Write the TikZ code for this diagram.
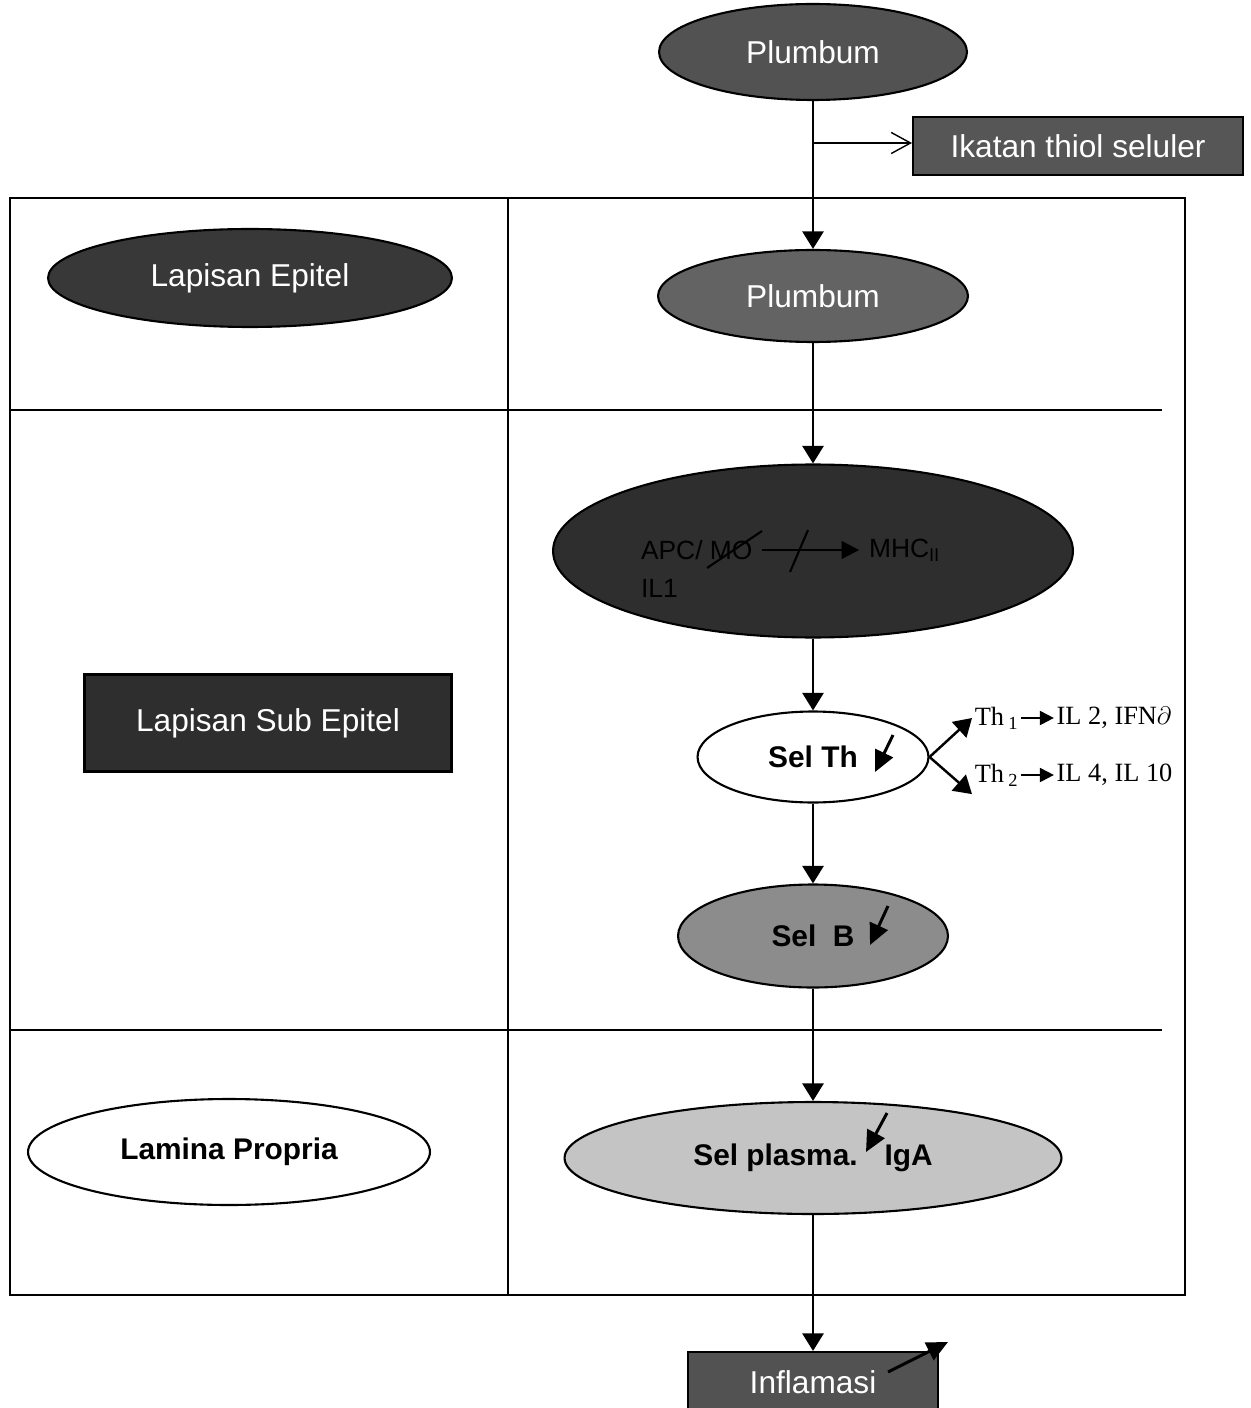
\documentclass[tikz,border=0pt]{standalone}
\usepackage{fontspec}
\setmainfont{Liberation Sans}
\newfontfamily\thfont{Liberation Serif}
\usetikzlibrary{shapes.geometric,arrows.meta,positioning}
\definecolor{leadgray}{gray}{0.32}
\definecolor{epigray}{gray}{0.22}
\definecolor{apcgray}{gray}{0.18}
\definecolor{bgray}{gray}{0.55}
\definecolor{plasmagray}{gray}{0.77}

\begin{document}
\begin{tikzpicture}[x=0.02cm,y=-0.02cm,line width=1.2pt,
    oval/.style={ellipse,draw,inner sep=0pt},
    darkbox/.style={rectangle,draw,inner sep=0pt},
    wtext/.style={text=white,font=\fontsize{18}{21}\selectfont},
    btext/.style={text=black,font=\bfseries\fontsize{17}{20}\selectfont},
    flow/.style={-{Triangle[length=10pt,width=12pt]},line width=1.4pt},
    down/.style={-{Triangle[length=12pt,width=11pt]},line width=1.7pt},
    thtext/.style={inner sep=1pt,font=\thfont\fontsize{15}{18}\selectfont}]
  \useasboundingbox (0,0) rectangle (1250,1408);

  % table
  \draw (10,198) rectangle (1185,1295);
  \draw (508,198) -- (508,1295);
  \draw (10,410) -- (1162,410);
  \draw (10,1030) -- (1162,1030);

  % left column
  \node[oval,fill=epigray,wtext,minimum width=8.08cm,minimum height=1.96cm] (epitel) at (250,278) {Lapisan Epitel};
  \node[darkbox,fill=apcgray,wtext,minimum width=7.34cm,minimum height=1.94cm] (subepi) at (268,723) {Lapisan Sub Epitel};
  \node[oval,fill=white,btext,minimum width=8.04cm,minimum height=2.12cm] (lamina) at (229,1152) {Lamina Propria};

  % right column
  \node[oval,fill=leadgray,wtext,minimum width=6.16cm,minimum height=1.92cm] (plumbA) at (813,52) {Plumbum};
  \coordinate (branch) at (813,143);
  \node[darkbox,fill=epigray!85!white,wtext,minimum width=6.6cm,minimum height=1.16cm] (ikatan) at (1078,146) {Ikatan thiol seluler};
  \node[oval,fill=leadgray!90!white,wtext,minimum width=6.2cm,minimum height=1.84cm] (plumbB) at (813,296) {Plumbum};

  \node[oval,fill=apcgray,minimum width=10.4cm,minimum height=3.46cm] (apc) at (813,551) {};
  \node[anchor=west,inner sep=0pt,font=\fontsize{15}{18}\selectfont] (apcname) at (640,550) {APC/ MO};
  \node[anchor=west,inner sep=0pt,font=\fontsize{15}{18}\selectfont] (il1) at (640,588) {IL1};
  \node[anchor=west,inner sep=0pt,font=\fontsize{15}{18}\selectfont] (mhc) at (868,550) {MHC\textsubscript{II}};
  \draw[-{Triangle[length=10pt,width=10pt]},line width=1.4pt] ([xshift=5pt]apcname.east) -- ([xshift=-5pt]mhc.west);
  \draw (707,568) -- (762,531);
  \draw (790,572) -- (808,530);

  \node[oval,fill=white,btext,minimum width=4.62cm,minimum height=1.82cm] (selth) at (813,757) {Sel Th};
  \draw[down] (893,735) -- (875,772);
  \node[thtext,anchor=west] (th1) at (972,718) {Th\,\textsubscript{1}};
  \node[thtext,right=0.65cm of th1] (ifn) {IL 2, IFN$\partial$};
  \node[thtext,anchor=west] (th2) at (972,775) {Th\,\textsubscript{2}};
  \node[thtext,right=0.65cm of th2] (il4) {IL 4, IL 10};
  \draw[-{Triangle[length=8pt,width=8pt]}] (th1) -- (ifn);
  \draw[-{Triangle[length=8pt,width=8pt]}] (th2) -- (il4);

  \node[oval,fill=bgray,btext,minimum width=5.4cm,minimum height=2.06cm] (selb) at (813,936) {Sel\ \ B};
  \draw[down] (888,906) -- (870,945);

  \node[oval,fill=plasmagray,btext,minimum width=9.94cm,minimum height=2.24cm] (plasma) at (813,1158) {Sel plasma.\hspace{0.9em}IgA};
  \draw[down] (887,1113) -- (866,1152);

  \node[darkbox,fill=leadgray,wtext,minimum width=5cm,minimum height=1.2cm] (inflam) at (813,1382) {Inflamasi};
  \draw[down] (888,1372) -- (948,1342);

  % connectors
  \draw[flow] (plumbA) -- (plumbB);
  \draw[-{Straight Barb[length=11pt,width=12pt]},line width=0.8pt] (branch) -- (branch -| ikatan.west);
  \draw[flow] (plumbB) -- (apc);
  \draw[flow] (apc) -- (selth);
  \draw[flow] (selth.east) -- (th1.west);
  \draw[flow] (selth.east) -- ([yshift=-3pt]th2.south west);
  \draw[flow] (selth) -- (selb);
  \draw[flow] (selb) -- (plasma);
  \draw[flow] (plasma) -- (inflam);
\end{tikzpicture}
\end{document}
